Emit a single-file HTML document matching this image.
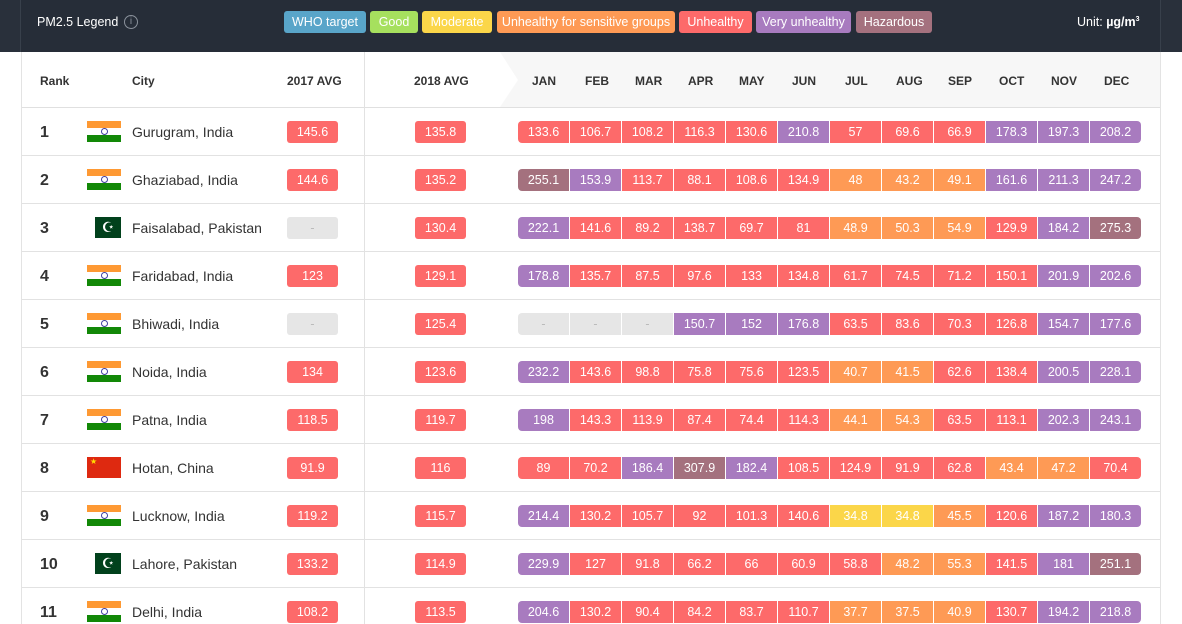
<!DOCTYPE html>
<html style="width:1182px;height:624px;overflow:hidden"><head><meta charset="utf-8"><style>
*{margin:0;padding:0;box-sizing:border-box}
body{width:1182px;height:624px;overflow:hidden;background:#fff;font-family:"Liberation Sans",sans-serif;position:relative}
.top{position:absolute;left:0;top:0;width:1182px;height:52px;background:#29303b}
.topin{position:absolute;left:20px;top:0;width:1141px;height:52px;background:#262d38;border-left:1px solid #38404b;border-right:1px solid #38404b}
.lg{position:absolute;top:11px;height:22px;line-height:22px;border-radius:3px;color:#fff;font-size:12.5px;text-align:center}
.panel{position:absolute;left:21px;top:52px;width:1140px;height:572px;border-left:1px solid #e3e3e3;border-right:1px solid #e3e3e3}
.hd{position:absolute;top:74px;font-size:12px;font-weight:bold;color:#333}
.row{position:absolute;left:22px;width:1138px;height:48px;border-bottom:1px solid #e2e2e2}
.vl{position:absolute;left:364px;top:52px;width:1px;height:572px;background:#e2e2e2}
.rk{position:absolute;left:18px;top:16px;font-size:16px;font-weight:bold;color:#333}
.ct{position:absolute;left:110px;top:16px;font-size:14px;color:#333}
.b{position:absolute;top:13px;width:51px;height:22px;line-height:22px;border-radius:3px;color:#fff;font-size:12.5px;text-align:center}
.m{position:absolute;left:496px;top:13px;display:flex}
.m span{width:51px;margin-right:1px;height:22px;line-height:22px;color:#fff;font-size:12.5px;text-align:center;background:#fd6a6a}
.m span:first-child{border-radius:4px 0 0 4px}
.m span:last-child{border-radius:0 4px 4px 0}
.m .p{background:#a87bbf}.m .h{background:#a4717e}.m .o{background:#fe9a55}.m .y{background:#fbd649}.m .n{background:#e6e6e6;color:#bbb}
.r{background:#fd6a6a}.n{background:#e6e6e6;color:#bbb}
.in{position:absolute;left:65px;top:13px;width:34px;height:21px;background:linear-gradient(#fe9933 0 33%,#fff 33% 67%,#128807 67%)}
.in:after{content:"";position:absolute;left:14px;top:7px;width:5px;height:5px;border:1px solid #4040a0;border-radius:50%}
.pk{position:absolute;left:73px;top:13px;width:26px;height:21px;background:#01411c;color:#fff;font-size:14px;line-height:21px;text-align:center}
.cn{position:absolute;left:65px;top:13px;width:34px;height:21px;background:#de2910;color:#ffde00;font-size:8px;line-height:10px;padding-left:3px}
</style></head><body>
<div class="top"><div class="topin"></div></div>
<div style="position:absolute;left:37px;top:15px;color:#fff;font-size:12.5px">PM2.5 Legend</div>
<div style="position:absolute;left:124px;top:15px;width:14px;height:14px;border:1px solid #8a919b;border-radius:50%;color:#8a919b;font-size:10px;line-height:12px;text-align:center">i</div>
<div class="lg" style="left:284px;width:82px;background:#59a5c9">WHO target</div>
<div class="lg" style="left:370px;width:48px;background:#a6e05e">Good</div>
<div class="lg" style="left:422px;width:70px;background:#fbd649">Moderate</div>
<div class="lg" style="left:497px;width:178px;background:#fe9a55">Unhealthy for sensitive groups</div>
<div class="lg" style="left:679px;width:73px;background:#fd6a6a">Unhealthy</div>
<div class="lg" style="left:756px;width:95px;background:#a87bbf">Very unhealthy</div>
<div class="lg" style="left:856px;width:76px;background:#a4717e">Hazardous</div>
<div style="position:absolute;left:1077px;top:15px;color:#fff;font-size:12.5px">Unit: <b>µg/m<sup style="font-size:7px">3</sup></b></div>
<div class="panel"></div>
<svg style="position:absolute;left:0;top:52px" width="1182" height="56"><polygon points="500,0 518,28 500,55 1160,55 1160,0" fill="#f7f7f7"/><line x1="22" y1="55.5" x2="1160" y2="55.5" stroke="#e0e0e0"/></svg>
<div class="vl"></div>
<div class="hd" style="left:40px">Rank</div><div class="hd" style="left:132px">City</div>
<div class="hd" style="left:287px">2017 AVG</div><div class="hd" style="left:414px">2018 AVG</div>
<div class="hd" style="left:532px">JAN</div><div class="hd" style="left:585px">FEB</div><div class="hd" style="left:635px">MAR</div><div class="hd" style="left:688px">APR</div><div class="hd" style="left:739px">MAY</div><div class="hd" style="left:792px">JUN</div><div class="hd" style="left:845px">JUL</div><div class="hd" style="left:896px">AUG</div><div class="hd" style="left:948px">SEP</div><div class="hd" style="left:999px">OCT</div><div class="hd" style="left:1051px">NOV</div><div class="hd" style="left:1104px">DEC</div>

<div class="row" style="top:108px"><div class="rk">1</div><div class="in"></div><div class="ct">Gurugram, India</div><div class="b r" style="left:265px">145.6</div><div class="b r" style="left:393px">135.8</div>
<div class="m"><span>133.6</span><span>106.7</span><span>108.2</span><span>116.3</span><span>130.6</span><span class="p">210.8</span><span>57</span><span>69.6</span><span>66.9</span><span class="p">178.3</span><span class="p">197.3</span><span class="p">208.2</span></div></div>

<div class="row" style="top:156px"><div class="rk">2</div><div class="in"></div><div class="ct">Ghaziabad, India</div><div class="b r" style="left:265px">144.6</div><div class="b r" style="left:393px">135.2</div>
<div class="m"><span class="h">255.1</span><span class="p">153.9</span><span>113.7</span><span>88.1</span><span>108.6</span><span>134.9</span><span class="o">48</span><span class="o">43.2</span><span class="o">49.1</span><span class="p">161.6</span><span class="p">211.3</span><span class="p">247.2</span></div></div>

<div class="row" style="top:204px"><div class="rk">3</div><div class="pk">☪</div><div class="ct">Faisalabad, Pakistan</div><div class="b n" style="left:265px">-</div><div class="b r" style="left:393px">130.4</div>
<div class="m"><span class="p">222.1</span><span>141.6</span><span>89.2</span><span>138.7</span><span>69.7</span><span>81</span><span class="o">48.9</span><span class="o">50.3</span><span class="o">54.9</span><span>129.9</span><span class="p">184.2</span><span class="h">275.3</span></div></div>

<div class="row" style="top:252px"><div class="rk">4</div><div class="in"></div><div class="ct">Faridabad, India</div><div class="b r" style="left:265px">123</div><div class="b r" style="left:393px">129.1</div>
<div class="m"><span class="p">178.8</span><span>135.7</span><span>87.5</span><span>97.6</span><span>133</span><span>134.8</span><span>61.7</span><span>74.5</span><span>71.2</span><span>150.1</span><span class="p">201.9</span><span class="p">202.6</span></div></div>

<div class="row" style="top:300px"><div class="rk">5</div><div class="in"></div><div class="ct">Bhiwadi, India</div><div class="b n" style="left:265px">-</div><div class="b r" style="left:393px">125.4</div>
<div class="m"><span class="n">-</span><span class="n">-</span><span class="n">-</span><span class="p">150.7</span><span class="p">152</span><span class="p">176.8</span><span>63.5</span><span>83.6</span><span>70.3</span><span>126.8</span><span class="p">154.7</span><span class="p">177.6</span></div></div>

<div class="row" style="top:348px"><div class="rk">6</div><div class="in"></div><div class="ct">Noida, India</div><div class="b r" style="left:265px">134</div><div class="b r" style="left:393px">123.6</div>
<div class="m"><span class="p">232.2</span><span>143.6</span><span>98.8</span><span>75.8</span><span>75.6</span><span>123.5</span><span class="o">40.7</span><span class="o">41.5</span><span>62.6</span><span>138.4</span><span class="p">200.5</span><span class="p">228.1</span></div></div>

<div class="row" style="top:396px"><div class="rk">7</div><div class="in"></div><div class="ct">Patna, India</div><div class="b r" style="left:265px">118.5</div><div class="b r" style="left:393px">119.7</div>
<div class="m"><span class="p">198</span><span>143.3</span><span>113.9</span><span>87.4</span><span>74.4</span><span>114.3</span><span class="o">44.1</span><span class="o">54.3</span><span>63.5</span><span>113.1</span><span class="p">202.3</span><span class="p">243.1</span></div></div>

<div class="row" style="top:444px"><div class="rk">8</div><div class="cn">★</div><div class="ct">Hotan, China</div><div class="b r" style="left:265px">91.9</div><div class="b r" style="left:393px">116</div>
<div class="m"><span>89</span><span>70.2</span><span class="p">186.4</span><span class="h">307.9</span><span class="p">182.4</span><span>108.5</span><span>124.9</span><span>91.9</span><span>62.8</span><span class="o">43.4</span><span class="o">47.2</span><span>70.4</span></div></div>

<div class="row" style="top:492px"><div class="rk">9</div><div class="in"></div><div class="ct">Lucknow, India</div><div class="b r" style="left:265px">119.2</div><div class="b r" style="left:393px">115.7</div>
<div class="m"><span class="p">214.4</span><span>130.2</span><span>105.7</span><span>92</span><span>101.3</span><span>140.6</span><span class="y">34.8</span><span class="y">34.8</span><span class="o">45.5</span><span>120.6</span><span class="p">187.2</span><span class="p">180.3</span></div></div>

<div class="row" style="top:540px"><div class="rk">10</div><div class="pk">☪</div><div class="ct">Lahore, Pakistan</div><div class="b r" style="left:265px">133.2</div><div class="b r" style="left:393px">114.9</div>
<div class="m"><span class="p">229.9</span><span>127</span><span>91.8</span><span>66.2</span><span>66</span><span>60.9</span><span>58.8</span><span class="o">48.2</span><span class="o">55.3</span><span>141.5</span><span class="p">181</span><span class="h">251.1</span></div></div>

<div class="row" style="top:588px;border-bottom:none"><div class="rk">11</div><div class="in"></div><div class="ct">Delhi, India</div><div class="b r" style="left:265px">108.2</div><div class="b r" style="left:393px">113.5</div>
<div class="m"><span class="p">204.6</span><span>130.2</span><span>90.4</span><span>84.2</span><span>83.7</span><span>110.7</span><span class="o">37.7</span><span class="o">37.5</span><span class="o">40.9</span><span>130.7</span><span class="p">194.2</span><span class="p">218.8</span></div></div>
</body></html>
